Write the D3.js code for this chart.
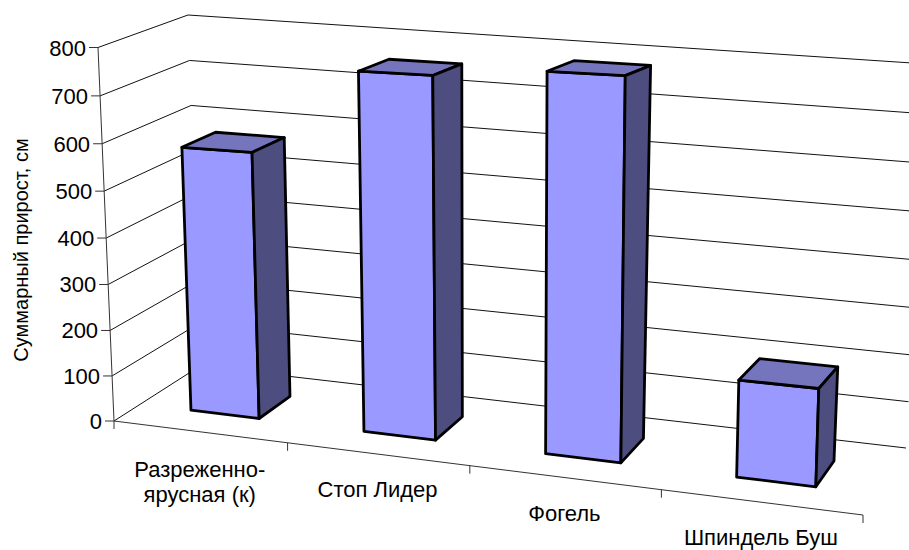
<!DOCTYPE html>
<html lang="ru">
<head>
<meta charset="utf-8">
<title>Суммарный прирост</title>
<script src="https://cdn.jsdelivr.net/npm/d3@7"></script>
<style>
  html, body { margin: 0; padding: 0; background: #fff; }
  svg { display: block; }
  text { font-family: "Liberation Sans", Arial, sans-serif; fill: #000; }
</style>
</head>
<body>
<svg id="chart" width="909" height="550"></svg>
<script>
// Chart data
const categories = [["Разреженно-", "ярусная (к)"], ["Стоп Лидер"], ["Фогель"], ["Шпиндель Буш"]];
const growth = [575, 757, 778, 197];
const yTicks = [0, 100, 200, 300, 400, 500, 600, 700, 800];
const axisTitle = "Суммарный прирост, см";

// Box corners of the 3D plot on screen: [category side, value side, depth side]
const corners = {
  c000: [114, 421], c100: [863, 515],
  c010: [98, 47.5], c110: [875, 85],
  c001: [200, 366], c101: [906, 448],
  c011: [188, 15],  c111: [927, 64]
};
const foreshorten = (t, k) => t * (1 + k) / (1 + k * t);

const xScale = d3.scaleLinear().domain([0, categories.length]).range([0, 1]);
const vScale = d3.scaleLinear().domain([0, 800]).range([0, 1]);
const depthScale = d3.scaleLinear().domain([0, 1]).range([0, 1]);

// Project (category position, value, depth) onto the page
function project(cat, value, depth) {
  const u = foreshorten(xScale(cat), -0.095);
  const v = foreshorten(vScale(value), -0.04);
  const w = depthScale(depth);
  const mix = i =>
    (1 - w) * ((1 - v) * ((1 - u) * corners.c000[i] + u * corners.c100[i]) +
               v * ((1 - u) * corners.c010[i] + u * corners.c110[i])) +
    w * ((1 - v) * ((1 - u) * corners.c001[i] + u * corners.c101[i]) +
         v * ((1 - u) * corners.c011[i] + u * corners.c111[i]));
  return [mix(0), mix(1)];
}

const svg = d3.select("#chart");
const lineGen = d3.line();
const nCat = categories.length;

// Gridlines on the side wall and the back wall
const grid = svg.append("g").attr("fill", "none").attr("stroke", "#111").attr("stroke-width", 1);
yTicks.forEach(t => {
  grid.append("path").attr("d", lineGen([project(0, t, 0), project(0, t, 1), project(nCat, t, 1)]));
});

// Value axis with outward ticks and labels
const axis = svg.append("g").attr("fill", "none").attr("stroke", "#333").attr("stroke-width", 1);
axis.append("path").attr("d", lineGen([project(0, 0, 0), project(0, 800, 0)]));
yTicks.forEach(t => {
  const p = project(0, t, 0);
  axis.append("path").attr("d", lineGen([[p[0] - 9, p[1]], p]));
  svg.append("text").attr("x", p[0] - 12).attr("y", p[1] + 8)
    .attr("text-anchor", "end").attr("font-size", 22).text(t);
});

// Category axis with ticks at the category boundaries
axis.append("path").attr("d", lineGen([project(0, 0, 0), project(nCat, 0, 0)]));
d3.range(nCat + 1).forEach(i => {
  const p = project(i, 0, 0);
  axis.append("path").attr("d", lineGen([p, [p[0], p[1] + 8]]));
});
categories.forEach((lines, i) => {
  const p = project(i + 0.5, 0, 0);
  const text = svg.append("text").attr("text-anchor", "middle").attr("font-size", 22);
  const base = lines.length > 1 ? 45 : 43;
  lines.forEach((s, k) => {
    text.append("tspan").attr("x", p[0]).attr("y", p[1] + base + k * 25).text(s);
  });
});

// Bars: front, top and right faces
const barStart = 0.3, barEnd = 0.7, depthNear = 0.31, depthFar = 0.7;
const barGroup = svg.append("g").attr("stroke", "#000").attr("stroke-width", 2.8).attr("stroke-linejoin", "round");
growth.forEach((val, i) => {
  const a = i + barStart, b = i + barEnd;
  const face = (pts, color) => barGroup.append("path")
    .attr("d", lineGen(pts) + "Z").attr("fill", color);
  face([project(a, 0, depthNear), project(b, 0, depthNear), project(b, val, depthNear), project(a, val, depthNear)], "#9999ff");
  face([project(a, val, depthNear), project(b, val, depthNear), project(b, val, depthFar), project(a, val, depthFar)], "#7575bd");
  face([project(b, 0, depthNear), project(b, 0, depthFar), project(b, val, depthFar), project(b, val, depthNear)], "#4d4d80");
});

// Rotated value-axis title
svg.append("text").attr("transform", "translate(28,250) rotate(-90)")
  .attr("text-anchor", "middle").attr("font-size", 20).text(axisTitle);
</script>
</body>
</html>
